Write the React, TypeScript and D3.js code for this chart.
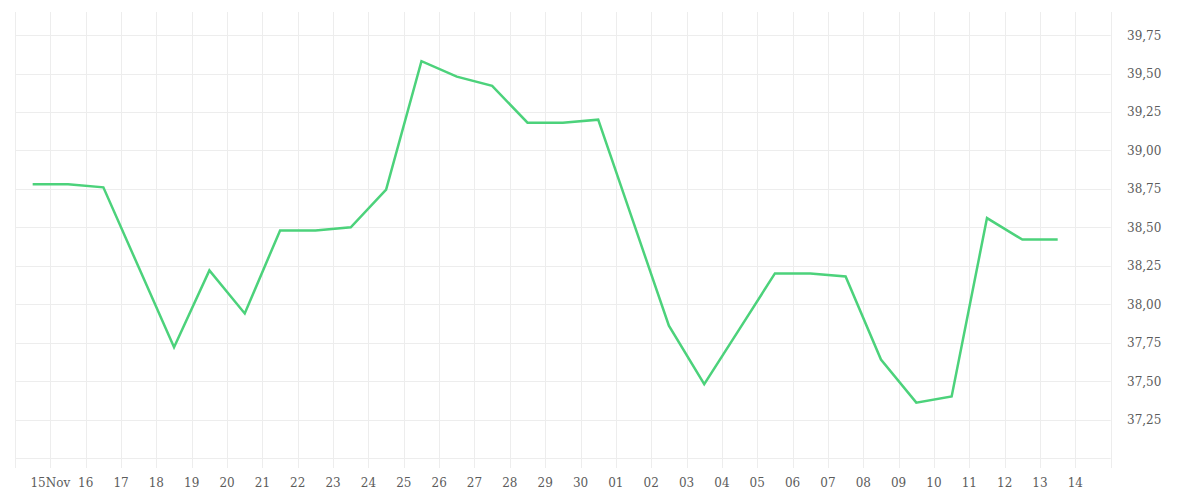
import React from "react";
import * as d3 from "d3";

const dates: string[] = [
  "2023-11-14", "2023-11-15", "2023-11-16", "2023-11-17", "2023-11-18", "2023-11-19",
  "2023-11-20", "2023-11-21", "2023-11-22", "2023-11-23", "2023-11-24", "2023-11-25",
  "2023-11-26", "2023-11-27", "2023-11-28", "2023-11-29", "2023-11-30", "2023-12-01",
  "2023-12-02", "2023-12-03", "2023-12-04", "2023-12-05", "2023-12-06", "2023-12-07",
  "2023-12-08", "2023-12-09", "2023-12-10", "2023-12-11", "2023-12-12", "2023-12-13",
];
const values: number[] = [
  38.78, 38.78, 38.76, 38.24, 37.72, 38.22,
  37.94, 38.48, 38.48, 38.5, 38.745, 39.58,
  39.48, 39.42, 39.18, 39.18, 39.2, 38.53,
  37.86, 37.48, 37.84, 38.2, 38.2, 38.18,
  37.64, 37.36, 37.4, 38.56, 38.42, 38.42,
];
const xTickDates: string[] = [
  "2023-11-15", "2023-11-16", "2023-11-17", "2023-11-18", "2023-11-19", "2023-11-20",
  "2023-11-21", "2023-11-22", "2023-11-23", "2023-11-24", "2023-11-25", "2023-11-26",
  "2023-11-27", "2023-11-28", "2023-11-29", "2023-11-30", "2023-12-01", "2023-12-02",
  "2023-12-03", "2023-12-04", "2023-12-05", "2023-12-06", "2023-12-07", "2023-12-08",
  "2023-12-09", "2023-12-10", "2023-12-11", "2023-12-12", "2023-12-13", "2023-12-14",
];
const xTickLabels: string[] = [
  "15Nov", "16", "17", "18", "19", "20", "21", "22", "23", "24", "25", "26", "27", "28",
  "29", "30", "01", "02", "03", "04", "05", "06", "07", "08", "09", "10", "11", "12",
  "13", "14",
];
const yGridValues: number[] = [37.0, 37.25, 37.5, 37.75, 38.0, 38.25, 38.5, 38.75, 39.0, 39.25, 39.5, 39.75];
const yTickValues: number[] = [37.25, 37.5, 37.75, 38.0, 38.25, 38.5, 38.75, 39.0, 39.25, 39.5, 39.75];
const yTickLabels: string[] = ["37,25", "37,50", "37,75", "38,00", "38,25", "38,50", "38,75", "39,00", "39,25", "39,50", "39,75"];

const parse = (s: string) => new Date(s + "T00:00:00Z");

export default function App() {
  const W = 1200, H = 500;
  const left = 15, right = 1110.7, top = 12, bottom = 468;
  const x = d3.scaleUtc().domain([parse("2023-11-14"), parse("2023-12-15")]).range([left, right]);
  const y = d3.scaleLinear().domain([36.935, 39.9]).range([bottom, top]);

  const gridDays = d3.utcDay.range(parse("2023-11-14"), d3.utcDay.offset(parse("2023-12-15"), 1));
  const pts = dates.map((d, i) => ({ t: d3.utcHour.offset(parse(d), 12), v: values[i] }));
  const line = d3.line<{ t: Date; v: number }>().x((d) => x(d.t)).y((d) => y(d.v));

  const grid = "#ededed";
  const textColor = "#5c5c5c";
  const font = "'DejaVu Serif', serif";

  return (
    <svg width={W} height={H} style={{ position: "absolute", left: 0, top: 0, background: "#fff" }}>
      <g>
        {gridDays.map((d, i) => (
          <line key={"vx" + i} x1={Math.round(x(d)) + 0.5} x2={Math.round(x(d)) + 0.5} y1={top} y2={bottom} stroke={grid} strokeWidth={1} />
        ))}
        {yGridValues.map((v, i) => (
          <line key={"hy" + i} x1={left} x2={right} y1={Math.round(y(v)) + 0.5} y2={Math.round(y(v)) + 0.5} stroke={grid} strokeWidth={1} />
        ))}
      </g>
      <path d={line(pts) || ""} fill="none" stroke="#4cd27b" strokeWidth={2.5} strokeLinejoin="miter" />
      <g fontFamily={font} fontSize={12} fill={textColor}>
        {xTickDates.map((d, i) => (
          <text key={"xt" + i} x={x(parse(d))} y={487} textAnchor="middle">
            {xTickLabels[i]}
          </text>
        ))}
        {yTickValues.map((v, i) => (
          <text key={"yt" + i} x={1127} y={y(v) + 4.5} textAnchor="start">
            {yTickLabels[i]}
          </text>
        ))}
      </g>
    </svg>
  );
}
